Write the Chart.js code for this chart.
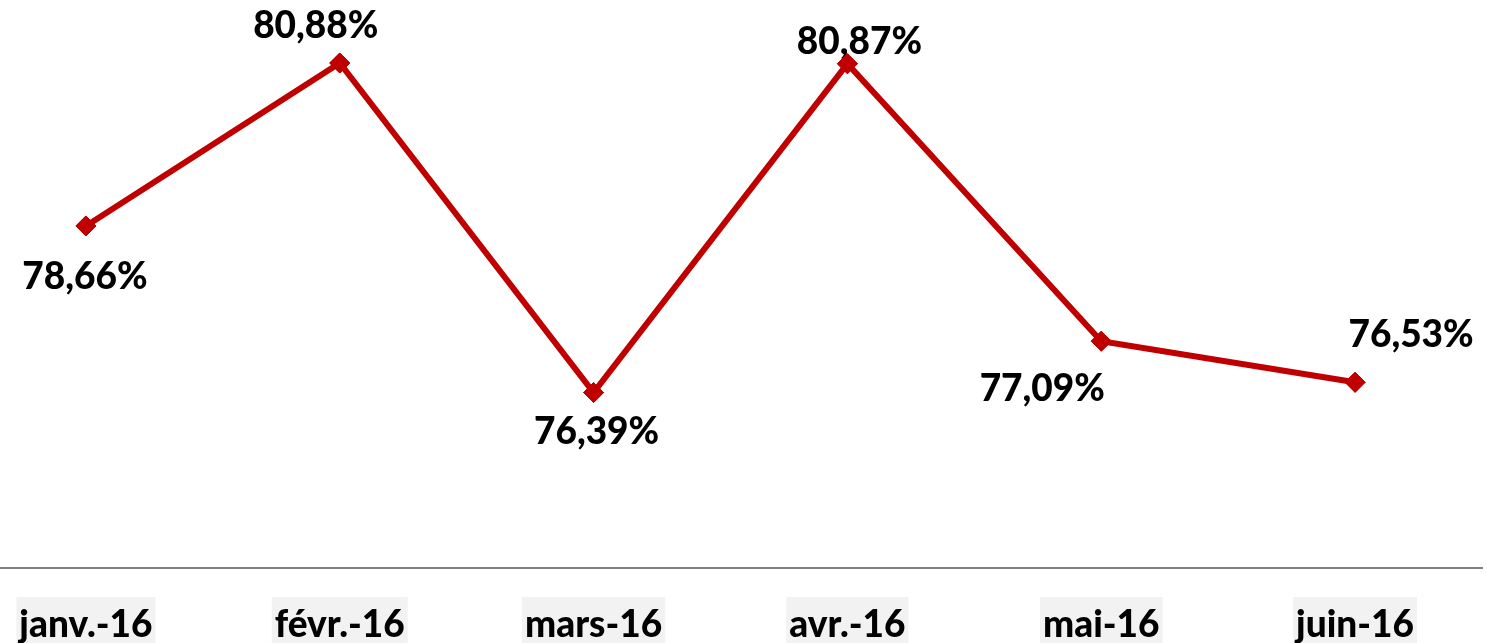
<!DOCTYPE html>
<html>
<head>
<meta charset="utf-8">
<script src="https://cdn.jsdelivr.net/npm/chart.js@4/dist/chart.umd.min.js"></script>
<style>
  html, body { margin: 0; padding: 0; background: #ffffff; overflow: hidden; width: 1486px; height: 643px; }
  #wrap { position: absolute; left: -52.5px; top: 0; width: 1545px; height: 700px; }
</style>
</head>
<body>
<div id="wrap"><canvas id="c" width="1545" height="700"></canvas></div>
<script>
const categories = ['janv.-16', 'févr.-16', 'mars-16', 'avr.-16', 'mai-16', 'juin-16'];
const rates = [78.66, 80.88, 76.39, 80.87, 77.09, 76.53];
const rateLabels = ['78,66%', '80,88%', '76,39%', '80,87%', '77,09%', '76,53%'];

// label placement relative to each point (dx, dy of the text baseline-centre)
const labelOffsets = [[-1, 63], [-24, -25], [3, 51], [12, -10], [-59, 60], [56, -35]];

const FONT = 'Lato, "Open Sans", sans-serif';

const labelPlugin = {
  id: 'pointLabels',
  afterDatasetsDraw(chart) {
    const ctx = chart.ctx;
    const meta = chart.getDatasetMeta(0);
    ctx.save();
    ctx.font = '900 37px ' + FONT;
    ctx.fillStyle = '#000000';
    ctx.textAlign = 'center';
    ctx.textBaseline = 'alphabetic';
    meta.data.forEach((pt, i) => {
      const o = labelOffsets[i];
      ctx.fillText(rateLabels[i], pt.x + o[0], pt.y + o[1]);
    });
    ctx.restore();
    meta.data.forEach(pt => pt.draw(ctx, chart.chartArea));
  }
};

new Chart(document.getElementById('c'), {
  type: 'line',
  data: {
    labels: categories,
    datasets: [{
      data: rates,
      borderColor: '#C00000',
      backgroundColor: '#C00000',
      borderWidth: 6,
      pointStyle: 'rectRot',
      pointRadius: 10,
      pointHoverRadius: 10,
      pointBorderWidth: 1,
      pointBorderColor: '#C00000',
      pointBackgroundColor: '#C00000',
      tension: 0,
      clip: false
    }]
  },
  options: {
    responsive: false,
    animation: false,
    devicePixelRatio: 1,
    layout: { padding: { top: 17.5, bottom: 0, left: 0, right: 0 } },
    plugins: { legend: { display: false }, tooltip: { enabled: false } },
    scales: {
      x: {
        offset: true,
        grid: { display: false },
        border: { display: true, color: '#808080', width: 2 },
        ticks: {
          color: '#000000',
          font: { family: FONT, size: 37, weight: 900 },
          padding: 27,
          maxRotation: 0,
          autoSkip: false,
          showLabelBackdrop: true,
          backdropColor: '#F2F2F2',
          backdropPadding: { top: 6, bottom: 6, left: 3, right: 3 }
        },
        afterFit(scale) { scale.height = 132; }
      },
      y: {
        display: false,
        min: 74,
        max: 81.5
      }
    }
  },
  plugins: [labelPlugin]
});
</script>
</body>
</html>
